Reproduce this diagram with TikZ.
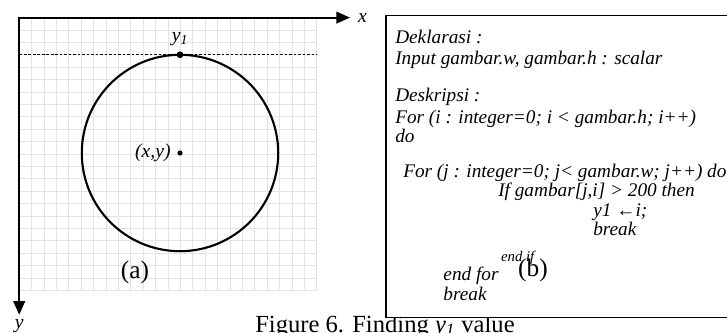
\documentclass[tikz,border=0pt]{standalone}
\usepackage{fontspec}
\setmainfont{Liberation Serif}
\usetikzlibrary{positioning,arrows.meta}

\begin{document}
\begin{tikzpicture}[
		gridline/.style={gray!22, line width=0.6pt},
		axis/.style={line width=1.4pt, {Triangle[length=3.4mm,width=2.9mm]}-{Triangle[length=3.4mm,width=2.9mm]}},
		ring/.style={line width=1.5pt},
		blob/.style={circle, fill=black, inner sep=0pt, minimum size=#1},
		axlabel/.style={font=\fontsize{14}{16}\selectfont\itshape},
		sublabel/.style={font=\fontsize{18}{20}\selectfont},
		codeline/.style={anchor=base west, inner sep=0pt, font=\fontsize{13.7}{15}\selectfont\itshape}
	]
	
	\def\cell{0.31}
	
	% Cornice della figura
	\useasboundingbox (0,0) rectangle (18.175,8.3);
	\clip (0,0) rectangle (18.175,8.3);
	
	% Griglia dei pixel: 24 x 22 celle
	\draw[gridline, shift={(0.48,1.04)}] (0,0) grid[step=\cell] (7.45,6.83);
	
	% Riga tratteggiata di y1
	\draw[line width=0.6pt, dash pattern=on 2pt off 1.2pt] (0.48,6.93) -- (7.92,6.93);
	
	% Assi
	\coordinate (O) at (0.48,7.86);
	\coordinate (xend) at (8.75,7.86);
	\coordinate (yend) at (0.48,0.43);
	\draw[axis] (xend) -- (O) -- (yend);
	\node[axlabel, right=0.8mm of xend] (xlab) {x};
	\node[axlabel] (ylab) at (0.48,0.15) {y};
	
	% Cerchio, centro e punto superiore
	\node[blob=1.3mm] (ctr) at (4.5,4.475) {};
	\node[blob=1.7mm] (top) at (4.5,6.93) {};
	\draw[ring] (ctr) circle (2.455);
	\node[axlabel, left=0.4mm of ctr] (ctrlab) {(x,y)};
	\node[axlabel] (toplab) at (4.5,7.33) {y\textsubscript{1}};
	\node[sublabel] (a) at (3.375,1.5) {(a)};
	
	% Didascalia (coperta in parte dal riquadro)
	\node[anchor=base west, inner sep=0pt, font=\fontsize{17.5}{19}\selectfont] (cap) at (6.375,0)
		{Figure 6. Finding \textit{y}\textsubscript{\textit{1}} value};
	
	% Riquadro dello pseudocodice
	\draw[line width=1.3pt, fill=white] (9.65,0.3625) rectangle (18.6,7.9125);
	\node[codeline] (decl) at (9.875,7.2175) {Deklarasi :};
	\node[codeline] (inp) at (9.875,6.6925) {Input gambar.w, gambar.h : scalar};
	\node[codeline] (desk) at (9.875,5.7575) {Deskripsi :};
	\node[codeline] (fori) at (9.875,5.2175) {For (i : integer=0; i < gambar.h; i++)};
	\node[codeline] (doi) at (9.875,4.7325) {do};
	\node[codeline] (forj) at (10.075,3.875) {For (j : integer=0; j< gambar.w; j++) do};
	\node[codeline] (ifg) at (12.45,3.4) {If gambar[j,i] > 200 then};
	\node[codeline] (assign) at (14.825,2.9) {y1 ←i;};
	\node[codeline] (brk) at (14.825,2.425) {break};
	\node[codeline, font=\fontsize{10.5}{12}\selectfont\itshape] (endif) at (12.52,1.7575) {end if};
	\node[codeline] (endfor) at (11.08,1.2825) {end for};
	\node[codeline] (brkout) at (11.08,0.8) {break};
	\node[sublabel] (b) at (13.325,1.55) {(b)};
	
\end{tikzpicture}
\end{document}
